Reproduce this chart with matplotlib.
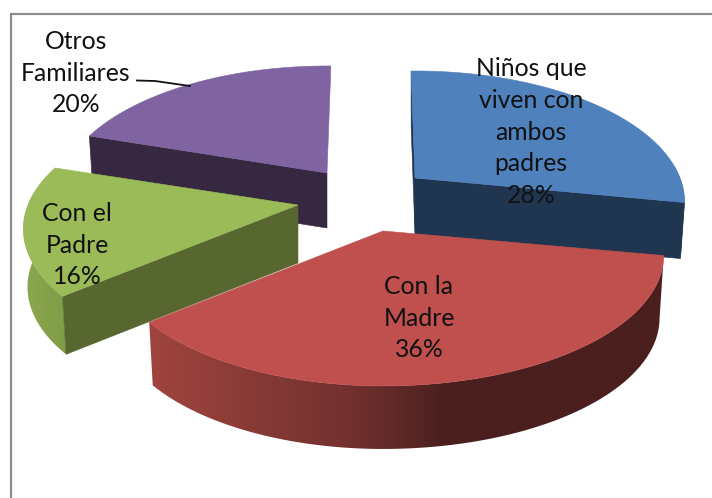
import numpy as np
import matplotlib as mpl
import matplotlib.pyplot as plt
from matplotlib.patches import Polygon

mpl.rcParams['font.family'] = ['Lato', 'DejaVu Sans']

# data
names = ["Niños que\nviven con\nambos\npadres", "Con la\nMadre", "Con el\nPadre", "Otros\nFamiliares"]
shares = [28, 36, 16, 20]

# look of each slice (exploded, so every one has its own apex)
top_colors = ['#4F81BD', '#C0504D', '#9BBB59', '#8064A2']
cut_colors = ['#1F3550', '#4A1F1E', '#58672F', '#352840']
# rim gradients run left to right on the page
rim_colors = [[(0, '#1F3550'), (1, '#1F3550')],
              [(0, '#A0443F'), (0.4, '#71302E'), (0.58, '#4A1F1E'), (1, '#4A1F1E')],
              [(0, '#8CA84F'), (1, '#7F9C47')],
              [(0, '#352840'), (1, '#352840')]]
# which cut faces can be seen: start of slice, end of slice
show_cuts = [[0, -1], [], [0], [0]]
apex_x = [415, 383, 298, 327]
apex_y = [178, 231, 205, 173]
rad_left = [265, 268, 270, 264]
rad_right = [265, 276, 270, 264]
depths = [56, 63, 58, 55]
pad_start = [-1, 0, 0, 0]
pad_end = [0, 0, 0, 1]
label_x = [531, 419, 77, 76]
label_y = [132, 318, 245, 73]

semi_b = 126.6
persp = 0.183
shrink = 0.985


def ring(i, theta, bottom=False):
    # point of the rim of slice i, theta clockwise from 12 o'clock
    u = np.sin(theta)
    v = -np.cos(theta)
    w = 1 - persp * v
    a = np.where(u < 0, rad_left[i], rad_right[i])
    x = a * u / w
    y = semi_b * v / w
    if bottom:
        return apex_x[i] + x * shrink, apex_y[i] + y + depths[i]
    return apex_x[i] + x, apex_y[i] + y


fig = plt.figure(figsize=(7.12, 4.98), dpi=100)
ax = fig.add_axes([0, 0, 1, 1])

# frame, only left and top show in the picture
ax.plot([712, 11, 11], [13.5, 13.5, 498], color='#8C8C8C', lw=1.6, solid_joinstyle='miter')

edges = np.cumsum([0] + shares) / np.sum(shares) * 2 * np.pi

# back slices first
for i in [3, 0, 2, 1]:
    t1 = edges[i] + np.radians(pad_start[i])
    t2 = edges[i + 1] + np.radians(pad_end[i])
    tt = np.linspace(t1, t2, 200)
    xt, yt = ring(i, tt)
    xb, yb = ring(i, tt, bottom=True)

    # rim: gradient image clipped to the outline of the rim
    front = np.cos(tt) <= 0.1
    if front.any():
        outline = list(zip(xt[front], yt[front])) + list(zip(xb[front][::-1], yb[front][::-1]))
        rim = Polygon(outline, closed=True, fc='none', ec='none')
        ax.add_patch(rim)
        cmap = mpl.colors.LinearSegmentedColormap.from_list('rim', rim_colors[i])
        x0 = min(xt[front].min(), xb[front].min())
        x1 = max(xt[front].max(), xb[front].max())
        y0 = yt[front].min()
        y1 = yb[front].max()
        im = ax.imshow(np.linspace(0, 1, 256)[None, :], cmap=cmap, extent=[x0, x1, y1, y0],
                       aspect='auto', zorder=1 + [3, 0, 2, 1].index(i) * 3)
        im.set_clip_path(rim)

    # cut faces
    ax0, ay0 = apex_x[i], apex_y[i]
    z = 2 + [3, 0, 2, 1].index(i) * 3
    for k in show_cuts[i]:
        ax.add_patch(Polygon([(ax0, ay0), (xt[k], yt[k]), (xb[k], yb[k]), (ax0, ay0 + depths[i])],
                             closed=True, fc=cut_colors[i], ec=cut_colors[i], lw=0.4, zorder=z))

    # top surface
    pts = [(ax0, ay0)] + list(zip(xt, yt))
    ax.add_patch(Polygon(pts, closed=True, fc=top_colors[i], ec=top_colors[i], lw=0.4, zorder=z + 1))

ax.set_xlim(0, 712)
ax.set_ylim(498, 0)
ax.axis('off')

# leader line for Otros Familiares
ax.plot([137, 155, 190], [80.5, 81, 86], color='#111111', lw=1.3, zorder=30)

for i in range(len(shares)):
    ax.text(label_x[i], label_y[i], "%s\n%d%%" % (names[i], shares[i]), ha='center', va='center',
            fontsize=17.8, color='#111111', linespacing=1.47, multialignment='center', zorder=31)

plt.savefig("out.png", dpi=100)
